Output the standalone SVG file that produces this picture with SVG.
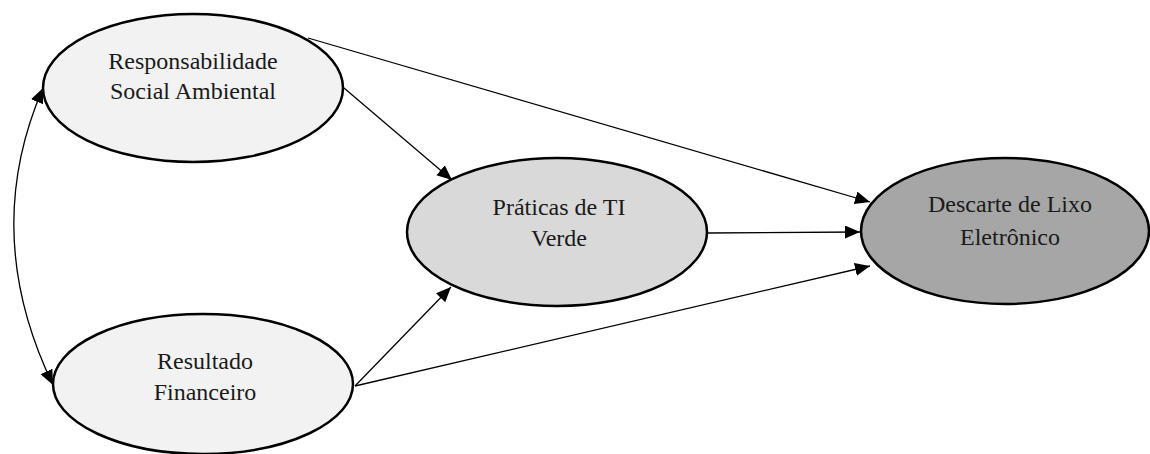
<svg xmlns="http://www.w3.org/2000/svg" width="1150" height="454" viewBox="0 0 1150 454">
<style>
.n ellipse{stroke:#000;stroke-width:2.5}
.n text{font-family:"Liberation Serif","Times New Roman",serif;font-size:24px;fill:#1a1a1a;text-anchor:middle}
.c path{fill:none;stroke:#000;stroke-width:1.3}
</style>
<defs>
<marker id="ah" markerUnits="userSpaceOnUse" markerWidth="16" markerHeight="14" refX="15" refY="6.5" orient="auto-start-reverse">
<path d="M0,0 L15,6.5 L0,13 z" fill="#000"/>
</marker>
</defs>
<g class="c" id="connectors">
<path d="M308,38 L870,202" marker-end="url(#ah)"/>
<path d="M344,88 L452,180" marker-end="url(#ah)"/>
<path d="M355,386 L451,287" marker-end="url(#ah)"/>
<path d="M355,386 L870,266" marker-end="url(#ah)"/>
<path d="M708,233 L860,232" marker-end="url(#ah)"/>
<path d="M43,88 Q-20,233.5 53,385" marker-start="url(#ah)" marker-end="url(#ah)"/>
</g>
<g class="n" id="rsa">
<ellipse cx="193" cy="88" rx="150" ry="74" fill="#f2f2f2"/>
<text x="193" y="69">Responsabilidade</text>
<text x="193" y="99">Social Ambiental</text>
</g>
<g class="n" id="rf">
<ellipse cx="203" cy="384" rx="150" ry="70" fill="#f2f2f2"/>
<text x="205" y="369">Resultado</text>
<text x="205" y="400">Financeiro</text>
</g>
<g class="n" id="ptv">
<ellipse cx="557" cy="232" rx="150" ry="74" fill="#d9d9d9"/>
<text x="559" y="215">Práticas de TI</text>
<text x="559" y="246">Verde</text>
</g>
<g class="n" id="dle">
<ellipse cx="1005" cy="231" rx="144" ry="73" fill="#a6a6a6"/>
<text x="1010" y="212">Descarte de Lixo</text>
<text x="1010" y="245">Eletrônico</text>
</g>
</svg>
